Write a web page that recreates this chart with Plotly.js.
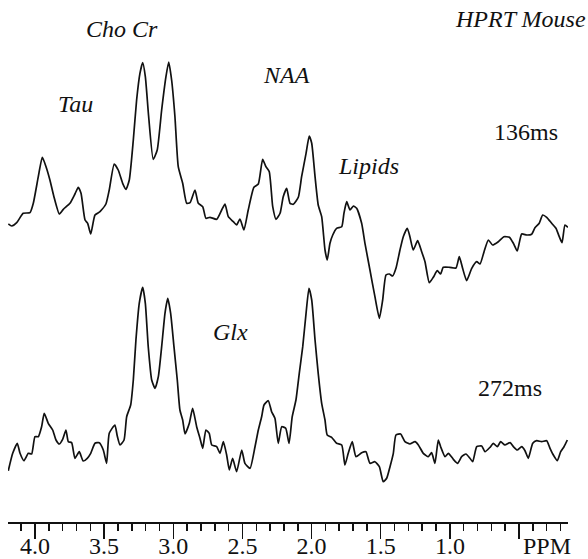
<!DOCTYPE html>
<html>
<head>
<meta charset="utf-8">
<script src="https://cdn.plot.ly/plotly-3.0.1.min.js"></script>
<style>html,body{margin:0;padding:0;background:#fff;}#chart{width:588px;height:559px;}</style>
</head>
<body>
<div id="chart"></div>
<script>
// Chemical shift (ppm) and intensity (arbitrary units, stacked) for TE = 136 ms
const ppm136 = [4.193,4.168,4.132,4.085,4.036,4.012,3.976,3.947,3.920,3.892,3.863,3.824,3.795,3.747,3.711,3.687,3.667,3.638,3.619,3.597,3.566,3.530,3.487,3.463,3.427,3.398,3.366,3.342,3.318,3.289,3.265,3.241,3.221,3.202,3.178,3.145,3.116,3.084,3.053,3.033,3.012,2.988,2.964,2.932,2.903,2.879,2.843,2.819,2.787,2.764,2.735,2.686,2.650,2.626,2.602,2.566,2.542,2.518,2.489,2.458,2.417,2.385,2.354,2.330,2.306,2.281,2.257,2.228,2.205,2.180,2.156,2.132,2.096,2.072,2.040,2.017,1.999,1.975,1.952,1.927,1.903,1.887,1.867,1.847,1.819,1.782,1.766,1.746,1.722,1.698,1.674,1.638,1.614,1.578,1.542,1.510,1.486,1.462,1.438,1.414,1.390,1.361,1.337,1.308,1.289,1.265,1.233,1.204,1.180,1.149,1.120,1.091,1.067,1.048,1.001,0.956,0.932,0.908,0.879,0.842,0.806,0.782,0.753,0.722,0.691,0.650,0.609,0.570,0.541,0.513,0.481,0.444,0.409,0.385,0.354,0.329,0.300,0.264,0.233,0.209,0.189,0.168,0.146];
const int136 = [298,296,299.3,308.7,309.3,318.7,345.3,364.7,355.3,342,325.3,308,312.7,318.7,328,334.7,328.7,302,298.7,288,307,310.3,318,332,358,352,338.7,332.7,342,382,422,448.7,459.3,445.3,405.3,362.7,372,412,445.3,460,442,405.3,355.3,338.7,318.7,319.3,332,318.7,315.3,303.7,304.7,302.7,312,318,305.3,300.3,297,303,292,312,334.7,338,362.7,355.3,350.3,315.3,302.7,308.7,325.3,333.7,318.7,317.7,324.7,345.3,368.7,386,378.7,345.3,317,305.3,272,262,278.7,287,293.7,295.3,308.7,320.3,312,316,313.7,298.7,278.7,252,225.3,203.7,222,247,248,246,253.7,272,285.3,293.7,285.3,272,281.3,270.3,260.3,239.3,244.7,251.3,248,254.7,254.7,254,265.3,253.7,241.3,253.7,260.3,258,270.3,282,277,280.3,285.3,284.7,278.7,271,288,287,287.7,294.3,298.7,307,304.7,298.7,293.7,285.3,279.3,297,294.7];

// TE = 272 ms
const ppm272 = [4.193,4.161,4.128,4.108,4.080,4.048,4.024,4.000,3.976,3.952,3.933,3.904,3.872,3.848,3.824,3.800,3.776,3.759,3.735,3.711,3.680,3.651,3.622,3.597,3.566,3.535,3.506,3.482,3.463,3.422,3.405,3.385,3.356,3.337,3.308,3.289,3.270,3.246,3.221,3.202,3.181,3.156,3.132,3.108,3.084,3.060,3.040,3.019,2.995,2.971,2.952,2.932,2.915,2.884,2.860,2.831,2.807,2.787,2.764,2.740,2.722,2.686,2.662,2.638,2.614,2.595,2.571,2.542,2.505,2.482,2.445,2.409,2.385,2.361,2.344,2.313,2.289,2.265,2.241,2.216,2.187,2.163,2.140,2.113,2.089,2.064,2.040,2.019,1.999,1.975,1.952,1.927,1.903,1.887,1.855,1.819,1.782,1.759,1.735,1.706,1.679,1.638,1.607,1.578,1.542,1.510,1.482,1.457,1.433,1.409,1.390,1.356,1.325,1.289,1.252,1.228,1.192,1.156,1.132,1.108,1.084,1.067,1.035,1.011,0.975,0.944,0.915,0.884,0.855,0.835,0.806,0.770,0.746,0.710,0.686,0.657,0.633,0.602,0.565,0.541,0.513,0.481,0.457,0.433,0.401,0.372,0.336,0.300,0.276,0.252,0.223,0.199,0.175,0.151];
const int272 = [51.3,68.7,78.7,68.7,61.3,68.7,68,85.3,85.3,95.3,108.7,98.7,92,82,78,82.7,92,80.3,79.3,63.7,70.3,61,63.7,68.7,78.7,79.3,72,58.7,88.7,97,86,77,82,105.3,117,142,182,218.7,234.7,218.7,175.3,142,133.7,145.3,175.3,208.7,223.7,208.7,175.3,142,112,102,88,98.7,113.7,95.3,83.7,73.7,92,88.7,77,75.3,68.7,80.3,67,52,63.7,50.3,72,58.7,53.7,75.3,92,105.3,117,121.3,110.3,103.7,78.7,95.3,93.7,78.7,105.3,122,148.7,175.3,208.7,233.7,222,182,148.7,118.7,102,87,84.7,78.7,77,57,68.7,80.3,65.3,69.3,70.3,58.7,60.3,55.3,40.3,43.7,55.3,68.7,87,88,80.3,78,80.3,77,68.7,65.3,69.3,58.7,82,75.3,65.3,68.7,62.7,58.7,65.3,68,63.7,60.3,75.3,76,70.3,74.7,78.7,75.3,80.3,77,79.3,75.3,72,75.3,71.3,63.7,78.7,81.3,80.3,81.3,73.7,67,61.3,70.3,75.3,82];

const majorTicks = [4.0,3.5,3.0,2.5,2.0,1.5,1.0,0.5];
const majorLabels = ["4.0","3.5","3.0","2.5","2.0","1.5","1.0",""];
const unitTick = [0.298];
const unitText = ["PPM"];

const peakLabels = ["Cho Cr","Tau","NAA","Lipids","Glx"];
const echoLabels = ["136ms","272ms"];
const titleText = "HPRT Mouse";

const W = 588, H = 559, L = 8, R = 20, T = 0, B = 37;
const pw = W - L - R, ph = H - T - B;
function px(x){ return (x - L) / pw; }
function py(y){ return (H - B - y) / ph; }

const serif = "'Liberation Serif', 'Times New Roman', Times, serif";
const lineStyle = {color: "#111", width: 1.7, shape: "spline", smoothing: 0.5};
const FS = 24;

const traces = [
  {x: ppm136, y: int136, mode: "lines", line: lineStyle, hoverinfo: "none"},
  {x: ppm272, y: int272, mode: "lines", line: lineStyle, hoverinfo: "none"}
];

const italic = {family: serif, size: FS, color: "#111", style: "italic"};
const upright = {family: serif, size: FS, color: "#111"};
function ann(text, x, y, font){
  return {text: text, xref: "paper", yref: "paper", x: px(x), y: py(y),
          xanchor: "center", yanchor: "middle", showarrow: false, font: font};
}

const annotations = [
  ann(peakLabels[0], 122, 29, italic),
  ann(peakLabels[1], 75, 104, italic),
  ann(peakLabels[2], 286, 75, italic),
  ann(peakLabels[3], 368, 166, italic),
  ann(peakLabels[4], 231, 332, italic),
  ann(echoLabels[0], 526, 132, upright),
  ann(echoLabels[1], 510, 388, upright),
  ann(titleText, 520, 19, italic)
];

const axisCommon = {
  range: [4.195, 0.146], showgrid: false, zeroline: false, fixedrange: true,
  ticks: "outside", ticklen: 15, tickwidth: 1.5,
  ticklabelstandoff: -13,
  tickfont: {family: serif, size: FS, color: "#111"}
};

const layout = {
  width: W, height: H,
  margin: {l: L, r: R, t: T, b: B, pad: 0},
  paper_bgcolor: "#fff", plot_bgcolor: "#fff",
  showlegend: false,
  xaxis: Object.assign({}, axisCommon, {
    showline: true, linecolor: "#111", linewidth: 1.5, tickcolor: "#111",
    tickvals: majorTicks, ticktext: majorLabels,
    minor: {dtick: 0.1, tick0: 0, ticks: "outside", ticklen: 7.5, tickwidth: 1.5, tickcolor: "#111", showgrid: false}
  }),
  xaxis2: Object.assign({}, axisCommon, {
    overlaying: "x", anchor: "y", side: "bottom", showline: false,
    tickcolor: "rgba(0,0,0,0)", tickvals: unitTick, ticktext: unitText
  }),
  yaxis: {range: [0, ph], visible: false, showgrid: false, zeroline: false, fixedrange: true},
  annotations: annotations
};

traces.push({x: [], y: [], xaxis: "x2", mode: "lines", hoverinfo: "none", showlegend: false});

Plotly.newPlot("chart", traces, layout, {staticPlot: true, displayModeBar: false});
</script>
</body>
</html>
